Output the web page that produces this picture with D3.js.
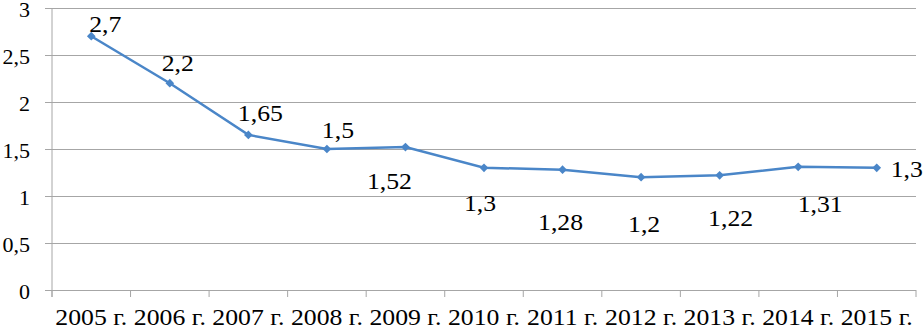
<!DOCTYPE html>
<html>
<head>
<meta charset="utf-8">
<script src="https://cdn.jsdelivr.net/npm/d3@7"></script>
<style>
  body { margin: 0; background: #fff; }
</style>
</head>
<body>
<div id="chart"></div>
<script>
// values
var years = ["2005 г.", "2006 г.", "2007 г.", "2008 г.", "2009 г.", "2010 г.",
             "2011 г.", "2012 г.", "2013 г.", "2014 г.", "2015 г."];
var values = [2.7, 2.2, 1.65, 1.5, 1.52, 1.3, 1.28, 1.2, 1.22, 1.31, 1.3];
var labels = ["2,7", "2,2", "1,65", "1,5", "1,52", "1,3", "1,28", "1,2", "1,22", "1,31", "1,3"];
var yTicks = [0, 0.5, 1, 1.5, 2, 2.5, 3];

// where each data label sits relative to its point (as in the original)
var labelShift = [[14, -4], [8, -12], [12, -14], [11, -11], [-16, 42], [-4, 43],
                  [-2, 60], [3, 55], [11, 51], [22, 45], [30, 9]];

var FONT = "Liberation Serif";
var SX = 1.12;  // text in the original is a bit wider than it is tall
var width = 924, height = 329;
var margin = {top: 8, left: 52, right: 8, bottom: 39};

// widen text horizontally around its anchor point
function stretch(sel) {
    sel.each(function() {
        var t = d3.select(this);
        var x = +t.attr("x") || 0, y = +t.attr("y") || 0;
        t.attr("x", 0).attr("y", 0)
         .attr("transform", `translate(${x}, ${y}) scale(${SX}, 1)`);
    });
}

var svg = d3.select("#chart").append("svg")
    .attr("width", width)
    .attr("height", height)
    .attr("font-family", FONT);

var xScale = d3.scaleBand()
    .domain(years)
    .range([margin.left, width - margin.right]);

var yScale = d3.scaleLinear()
    .domain([0, 3])
    .range([height - margin.bottom, margin.top]);

// gridlines + y labels
var yAxis = svg.append("g")
    .attr("transform", `translate(${margin.left}, 0)`)
    .call(d3.axisLeft(yScale)
        .tickValues(yTicks)
        .tickSize(-(width - margin.left - margin.right))
        .tickPadding(22)
        .tickFormat(function(d) { return String(d).replace(".", ","); }));
yAxis.attr("font-family", FONT).attr("font-size", 22);
yAxis.select(".domain").remove();
yAxis.selectAll("line").attr("stroke", "#a6a6a6").attr("x1", -7);
yAxis.selectAll("text").attr("fill", "#000").attr("dy", "0.4em");

// y axis line
svg.append("line")
    .attr("x1", margin.left).attr("x2", margin.left)
    .attr("y1", margin.top).attr("y2", yScale(0) + 7)
    .attr("stroke", "#a6a6a6");

// x axis: ticks between categories
var boundaries = years.map(function(d) { return xScale(d); }).concat([xScale.range()[1]]);
svg.selectAll(".xtick")
    .data(boundaries)
    .enter().append("line")
    .attr("class", "xtick")
    .attr("x1", function(d) { return d; })
    .attr("x2", function(d) { return d; })
    .attr("y1", yScale(0))
    .attr("y2", yScale(0) + 7)
    .attr("stroke", "#a6a6a6");

svg.selectAll(".xlabel")
    .data(years)
    .enter().append("text")
    .attr("class", "xlabel")
    .attr("x", function(d) { return xScale(d) + xScale.bandwidth() / 2; })
    .attr("y", 325)
    .attr("text-anchor", "middle")
    .attr("font-family", FONT)
    .attr("font-size", 23)
    .text(function(d) { return d; })
    .call(stretch);

var pts = years.map(function(d, i) {
    return {x: xScale(d) + xScale.bandwidth() / 2, y: yScale(values[i]), label: labels[i], shift: labelShift[i]};
});

var line = d3.line()
    .x(function(d) { return d.x; })
    .y(function(d) { return d.y; });

svg.append("path")
    .datum(pts)
    .attr("d", line)
    .attr("fill", "none")
    .attr("stroke", "#4a86c8")
    .attr("stroke-width", 2.5);

svg.selectAll(".marker")
    .data(pts)
    .enter().append("path")
    .attr("class", "marker")
    .attr("d", d3.symbol().type(d3.symbolDiamond2).size(48))
    .attr("transform", function(d) { return `translate(${d.x}, ${d.y})`; })
    .attr("fill", "#4a86c8");

svg.selectAll(".dlabel")
    .data(pts)
    .enter().append("text")
    .attr("class", "dlabel")
    .attr("x", function(d) { return d.x + d.shift[0]; })
    .attr("y", function(d) { return d.y + d.shift[1]; })
    .attr("text-anchor", "middle")
    .attr("font-family", FONT)
    .attr("font-size", 23)
    .text(function(d) { return d.label; })
    .call(stretch);
</script>
</body>
</html>
